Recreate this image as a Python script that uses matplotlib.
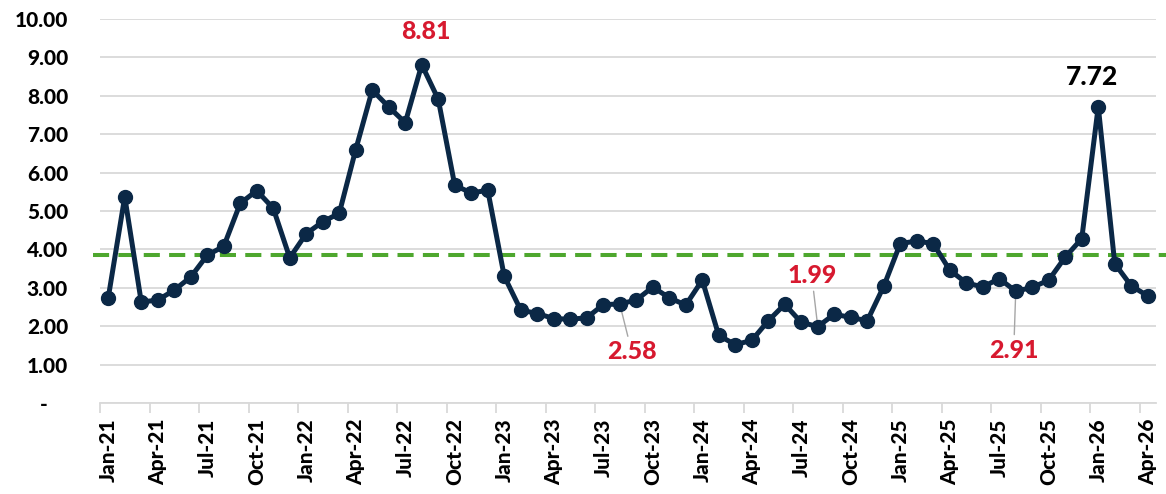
import numpy as np
import matplotlib
matplotlib.use("Agg")
import matplotlib.pyplot as plt

# monthly values Jan-21 .. Apr-26
months = ['Jan', 'Feb', 'Mar', 'Apr', 'May', 'Jun', 'Jul', 'Aug', 'Sep', 'Oct', 'Nov', 'Dec']
years = ['21', '22', '23', '24', '25', '26']
labels = [m + '-' + y for y in years for m in months][:64]

values = [2.74, 5.37, 2.63, 2.68, 2.94, 3.28, 3.85, 4.08, 5.20, 5.53, 5.07, 3.78,
          4.41, 4.72, 4.94, 6.60, 8.15, 7.71, 7.30, 8.81, 7.91, 5.67, 5.47, 5.54,
          3.30, 2.42, 2.33, 2.20, 2.18, 2.22, 2.56, 2.58, 2.68, 3.02, 2.74, 2.55,
          3.20, 1.76, 1.52, 1.63, 2.14, 2.57, 2.10, 1.99, 2.31, 2.23, 2.14, 3.04,
          4.15, 4.22, 4.15, 3.46, 3.13, 3.02, 3.24, 2.91, 3.01, 3.20, 3.80, 4.28,
          7.72, 3.63, 3.05, 2.79]
avg_level = 3.85

# annotated points: (label, text colour, offset px, leader line?)
notes = [('Aug-22', '#d7192f', (4, 33), False),
         ('Aug-23', '#d7192f', (12, -48), True),
         ('Aug-24', '#d7192f', (-6, 51), True),
         ('Aug-25', '#d7192f', (-2, -59), True),
         ('Jan-26', 'black', (-6, 30), False)]

plt.rcParams['font.family'] = ['Lato', 'DejaVu Sans']

fig = plt.figure(figsize=(11.66, 4.94), dpi=100)
ax = fig.add_axes([100/1166, 1-403/494, 1056/1166, 384/494])

x = np.arange(len(values))
ax.plot(x, values, color='#0b2846', lw=3.6, marker='o', ms=10, zorder=4)
ax.plot([-0.95, 64.2], [avg_level, avg_level], color='#4ea72e', lw=2.9,
        dashes=(4, 2.3), zorder=3, clip_on=False)

ax.set_xlim(-0.5, len(values) - 0.5)
ax.set_ylim(0, 10)

yt = np.arange(0, 11)
ax.set_yticks(yt)
ax.set_yticklabels(['-    '] + ['%.2f' % v for v in yt[1:]], fontsize=15, fontweight='black')
ax.tick_params(axis='y', length=0, pad=23)
ax.grid(axis='y', color='#d9d9d9', lw=1.3)
ax.set_axisbelow(True)

ax.set_xticks(x[::3])
ax.set_xticklabels(labels[::3], rotation=90, fontsize=15, fontweight='black')
ax.set_xticks(np.arange(-0.5, len(values), 3), minor=True)
ax.tick_params(axis='x', which='major', length=0, pad=11)
ax.tick_params(axis='x', which='minor', length=7, color='#d9d9d9', width=1.3)

for s in ['top', 'right', 'left']:
    ax.spines[s].set_visible(False)
ax.spines['bottom'].set_color('#d9d9d9')
ax.spines['bottom'].set_linewidth(1.3)

for lab, col, off, leader in notes:
    i = labels.index(lab)
    ap = dict(arrowstyle='-', color='#a6a6a6', lw=1, shrinkA=1, shrinkB=3) if leader else None
    size = 19 if col == 'black' else 18
    ax.annotate('%.2f' % values[i], xy=(i, values[i]), xytext=off,
                textcoords='offset pixels', ha='center', va='center',
                fontsize=size, fontweight='black', color=col, arrowprops=ap, zorder=2)

fig.savefig('out.png', dpi=100, facecolor='white')
